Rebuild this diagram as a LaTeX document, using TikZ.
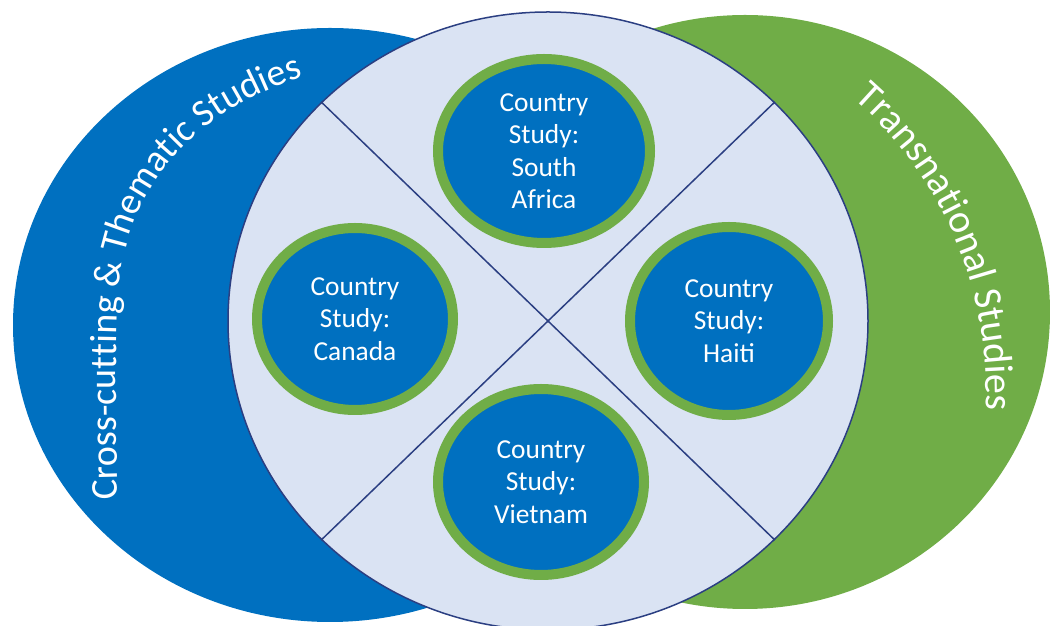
\documentclass[tikz,border=0pt]{standalone}
\usepackage{fontspec}
\setmainfont{Carlito}
\usetikzlibrary{shapes.geometric,decorations.text}
\definecolor{obl}{HTML}{0070C0}
\definecolor{ogr}{HTML}{70AD47}
\definecolor{olt}{HTML}{DAE3F3}
\definecolor{onv}{HTML}{2B3F82}
\newcommand\bigLabelFont{\fontsize{40}{48}\selectfont}
\newcommand\leftLabelFont{\fontsize{38}{46}\selectfont}
\begin{document}
\begin{tikzpicture}[x=1pt,y=1pt,
  ring/.style={ellipse, draw=ogr, line width=10pt, fill=obl, inner sep=0pt},
  lbl/.style={text=white, align=center, font=\fontsize{27.4}{32.5}\selectfont},
  divider/.style={draw=onv, line width=1.5pt},
  arclabel/.style={decorate, decoration={text along path, text color=white, text align=left, text={#1}}}]
\useasboundingbox (0,0) rectangle (1050,626);
% outer study areas
\fill[obl] (330,301) ellipse [x radius=317, y radius=297];
\fill[ogr] (745,314) ellipse [x radius=305, y radius=297];
% central circle
\node[ellipse, fill=olt, draw=onv, line width=1.5pt, minimum width=640pt, minimum height=618pt, inner sep=0pt] (hub) at (548,305) {};
\draw[divider] (hub.136) -- (hub.316);
\draw[divider] (hub.44) -- (hub.224);
% country studies
\node[ring, minimum width=212pt, minimum height=184pt] (sa) at (544,475) {};
\node[ring, minimum width=196pt, minimum height=182pt] (ca) at (355,307) {};
\node[ring, minimum width=198pt, minimum height=188pt] (ha) at (729,305) {};
\node[ring, minimum width=206pt, minimum height=186pt] (vn) at (541,144) {};
\node[lbl] (saT) at (sa) {Country\\Study:\\South\\Africa};
\node[lbl] (caT) at (ca) {Country\\Study:\\Canada};
\node[lbl] (haT) at (ha) {Country\\Study:\\Haiti};
\node[lbl] (vnT) at (vn) {Country\\Study:\\Vietnam};
% curved labels
\path[arclabel={|\leftLabelFont|Cross-cutting {\&} Thematic Studies}]
  plot[smooth, tension=0.6] coordinates {(118,126) (116,226) (118,326) (128,386) (150,436) (185,481) (235,519) (300,548) (370,566)};
\path[arclabel={|\bigLabelFont|Transnational Studies}]
  (601,237) ++(49:385) arc[start angle=49, end angle=-10, radius=385];
\end{tikzpicture}
\end{document}
